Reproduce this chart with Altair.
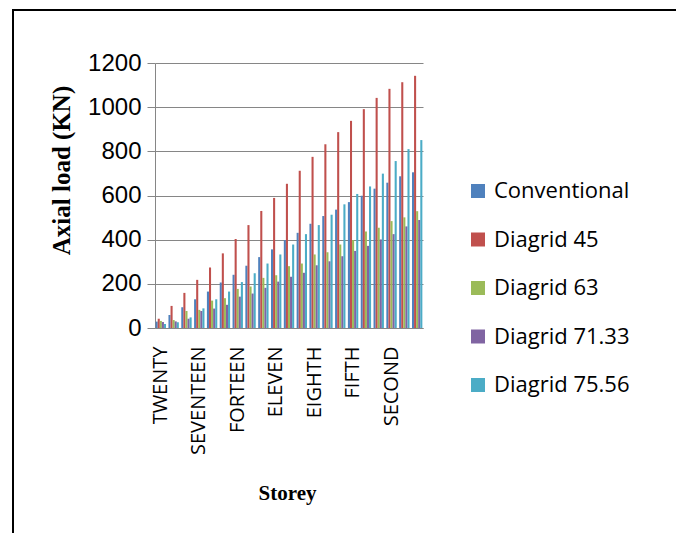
import altair as alt
import pandas as pd

storeys = ["TWENTY", "NINETEEN", "EIGHTEEN", "SEVENTEEN", "SIXTEEN", "FIFTEEN",
           "FORTEEN", "THIRTEEN", "TWELVE", "ELEVEN", "TENTH", "NINTH", "EIGHTH",
           "SEVENTH", "SIXTH", "FIFTH", "FOURTH", "THIRD", "SECOND", "FIRST", "GROUND"]
shown_labels = ["TWENTY", "SEVENTEEN", "FORTEEN", "ELEVEN", "EIGHTH", "FIFTH", "SECOND"]
series = ["Conventional", "Diagrid 45", "Diagrid 63", "Diagrid 71.33", "Diagrid 75.56"]
colors = ["#4F81BD", "#C0504D", "#9BBB59", "#8064A2", "#4BACC6"]
y_ticks = [0, 200, 400, 600, 800, 1000, 1200]

conventional = [29, 59, 94, 130, 165, 206, 241, 282, 321, 356, 398, 431, 472, 507, 536, 570, 599, 631, 658, 687, 705]
diagrid45 = [42, 100, 159, 218, 274, 338, 403, 466, 530, 589, 653, 712, 775, 832, 887, 938, 991, 1042, 1083, 1113, 1142]
diagrid63 = [32, 36, 77, 82, 124, 135, 177, 188, 227, 239, 280, 292, 333, 343, 378, 398, 437, 454, 484, 501, 529]
diagrid7133 = [27, 30, 42, 77, 88, 105, 142, 156, 182, 210, 232, 250, 284, 302, 325, 349, 372, 401, 425, 460, 489]
diagrid7556 = [18, 26, 48, 89, 130, 165, 208, 248, 292, 333, 378, 425, 466, 513, 560, 607, 641, 699, 756, 810, 851]

values_by_series = [conventional, diagrid45, diagrid63, diagrid7133, diagrid7556]
rows = []
for s, vals in zip(series, values_by_series):
    for st, v in zip(storeys, vals):
        rows.append({"Storey": st, "Series": s, "Load": v})
df = pd.DataFrame(rows)

FONT = "Open Sans"
SERIF = "Liberation Serif"

bars = alt.Chart(df).mark_bar().encode(
    x=alt.X("Storey:N", sort=storeys,
            scale=alt.Scale(paddingInner=0.19, paddingOuter=0.05),
            axis=alt.Axis(values=shown_labels, labelAngle=-90, ticks=False,
                          labelPadding=18, labelFont=FONT, labelFontSize=20,
                          labelColor="#000000", domainColor="#868686",
                          title="Storey", titleFont=SERIF, titleFontSize=21,
                          titleFontWeight="bold", titleColor="#000000",
                          titleX=132, titleY=165, titleBaseline="middle",
                          titleAlign="center")),
    xOffset=alt.XOffset("Series:N", sort=series, scale=alt.Scale(paddingInner=0, paddingOuter=0)),
    y=alt.Y("Load:Q", scale=alt.Scale(domain=[0, 1200]),
            axis=alt.Axis(values=y_ticks, format="d", tickSize=8, tickColor="#868686",
                          domainColor="#868686", gridColor="#868686",
                          labelFont="Liberation Sans", labelFontSize=24,
                          labelColor="#000000", labelPadding=6,
                          title="Axial load (KN)", titleFont=SERIF,
                          titleFontSize=25, titleFontWeight="bold",
                          titleColor="#000000", titleX=-94, titleY=107,
                          titleBaseline="middle", titleAlign="center",
                          titleAngle=-90)),
    color=alt.Color("Series:N", sort=series,
                    scale=alt.Scale(domain=series, range=colors),
                    legend=alt.Legend(title=None, orient="none", legendX=312,
                                      legendY=117, symbolType="square",
                                      symbolSize=196, symbolStrokeWidth=0,
                                      labelFont=FONT, labelFontSize=22,
                                      labelColor="#000000", labelOffset=5,
                                      rowPadding=26.5)),
)

frame = alt.Chart(alt.Data(values=[{"a": 1}])).mark_rect(
    fill="transparent", stroke="#000000", strokeWidth=2
).encode(
    x=alt.value(-142), x2=alt.value(525), y=alt.value(-53), y2=alt.value(490)
)

chart = alt.layer(frame, bars).properties(
    width=268, height=265,
    autosize=alt.AutoSizeParams(type="none"),
    padding={"left": 147, "top": 55, "right": 253, "bottom": 205},
).configure_view(strokeWidth=0)

chart.save("out.html", embed_options={"renderer": "svg", "actions": False})
